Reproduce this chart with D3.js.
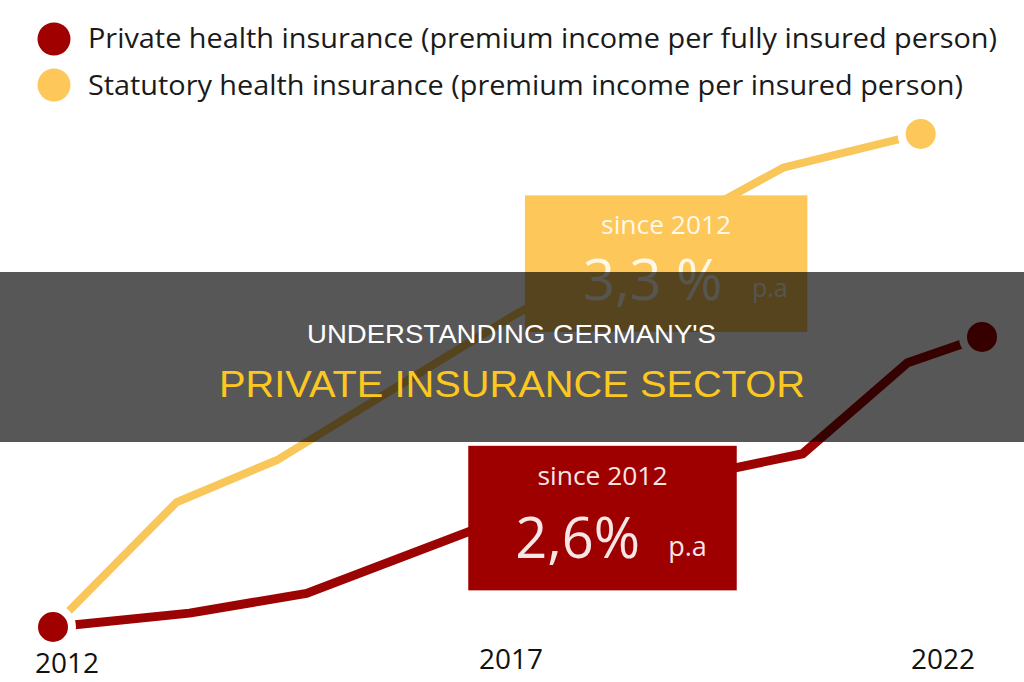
<!DOCTYPE html>
<html>
<head>
<meta charset="utf-8">
<script src="https://cdn.jsdelivr.net/npm/d3@7"></script>
<style>
  html, body { margin: 0; padding: 0; background: #fff; }
  svg { display: block; }
</style>
</head>
<body>
<svg id="chart" width="1024" height="682"></svg>
<script>
// ---------------- DATA ----------------
const seriesNames = [
  "Private health insurance (premium income per fully insured person)",
  "Statutory health insurance (premium income per insured person)"
];
// index, 2012 = 100 (x positions in years)
const privateYears = [2012, 2013.47, 2014.73, 2017, 2020.07, 2021.2, 2022];
const privateValues = [100, 101.4, 103.4, 111.5, 117.5, 126.7, 129.3];
const statutoryYears = [2012, 2013.33, 2014.42, 2017, 2019.86, 2021.34];
const statutoryValues = [100, 112.6, 116.9, 131.7, 146.4, 149.8];

const tickLabels = [2012, 2017, 2022];

const growthLabels = ["since 2012", "since 2012"];
const growthRates = ["2,6%", "3,3 %"];
const growthUnit = "p.a";

const bannerLines = ["UNDERSTANDING GERMANY'S", "PRIVATE INSURANCE SECTOR"];

// ---------------- SETUP ----------------
const colors = { priv: "#a00000", privLine: "#9c0303", stat: "#fdc759", statLine: "#f9c659" };
const svg = d3.select("#chart");

const x = d3.scaleLinear().domain([2012, 2022]).range([53, 982]);
const y = d3.scaleLinear().domain([100, 150]).range([627, 132]);
const xLab = d3.scaleLinear().domain([2012, 2017, 2022]).range([67, 511, 943]);

const priv = privateYears.map((t, i) => ({ t, v: privateValues[i] }));
const stat = statutoryYears.map((t, i) => ({ t, v: statutoryValues[i] }));

const line = d3.line().x(d => x(d.t)).y(d => y(d.v));

// lines
svg.append("path").datum(stat).attr("d", line)
  .attr("fill", "none").attr("stroke", colors.statLine)
  .attr("stroke-width", 8).attr("stroke-linejoin", "round").attr("stroke-linecap", "round");
svg.append("path").datum(priv).attr("d", line)
  .attr("fill", "none").attr("stroke", colors.privLine)
  .attr("stroke-width", 9).attr("stroke-linejoin", "round").attr("stroke-linecap", "round");

// end dots (with white halo that separates them from the lines)
const dots = [
  { d: stat[stat.length - 1], c: colors.stat },
  { d: priv[0], c: colors.priv },
  { d: priv[priv.length - 1], c: colors.priv }
];
svg.selectAll("circle.dot").data(dots).enter().append("circle")
  .attr("class", "dot")
  .attr("cx", o => x(o.d.t)).attr("cy", o => y(o.d.v))
  .attr("r", 19).attr("fill", o => o.c)
  .attr("stroke", "#fff").attr("stroke-width", 8);

// annotation boxes (extent in data units)
const boxes = [
  { t0: 2016.47, t1: 2019.36, v0: 103.7, v1: 118.3, fill: "#9e0000", txt: "#f7e6e6",
    label: growthLabels[0], rate: growthRates[0], rateDx: 47, rateDy: 112, unitDx: 200, unitDy: 110, unitSize: 27 },
  { t0: 2017.08, t1: 2020.12, v0: 129.8, v1: 143.6, fill: "#fdc75a", txt: "#fff8e8",
    label: growthLabels[1], rate: growthRates[1], rateDx: 58, rateDy: 105, unitDx: 227, unitDy: 102, unitSize: 25 }
];
boxes.forEach(b => {
  const bx = x(b.t0), by = y(b.v1), bw = x(b.t1) - x(b.t0), bh = y(b.v0) - y(b.v1);
  const g = svg.append("g");
  g.append("rect").attr("x", bx).attr("y", by).attr("width", bw).attr("height", bh).attr("fill", b.fill);
  g.append("text").attr("x", bx + bw / 2).attr("y", by + 39)
    .attr("text-anchor", "middle").attr("font-family", "'Open Sans', sans-serif")
    .attr("font-size", 25).attr("fill", b.txt)
    .attr("textLength", 130).attr("lengthAdjust", "spacingAndGlyphs")
    .text(b.label);
  g.append("text").attr("x", bx + b.rateDx).attr("y", by + b.rateDy)
    .attr("font-family", "'Open Sans', sans-serif")
    .attr("font-size", 56).attr("fill", b.txt).text(b.rate);
  g.append("text").attr("x", bx + b.unitDx).attr("y", by + b.unitDy)
    .attr("font-family", "'Open Sans', sans-serif")
    .attr("font-size", b.unitSize).attr("fill", b.txt).text(growthUnit);
});

// legend
const legend = [
  { name: seriesNames[0], c: colors.priv, cy: 39, base: 48, len: 909 },
  { name: seriesNames[1], c: colors.stat, cy: 85, base: 95, len: 875 }
];
legend.forEach(l => {
  svg.append("circle").attr("cx", 54).attr("cy", l.cy).attr("r", 16.5).attr("fill", l.c);
  svg.append("text").attr("x", 88).attr("y", l.base)
    .attr("font-family", "'Open Sans', sans-serif").attr("font-size", 28)
    .attr("fill", "#1a1a1a")
    .attr("textLength", l.len).attr("lengthAdjust", "spacingAndGlyphs")
    .text(l.name);
});

// x labels
svg.selectAll("text.tick").data(tickLabels).enter().append("text")
  .attr("class", "tick")
  .attr("x", d => xLab(d)).attr("y", (d, i) => i === 0 ? 673 : 669)
  .attr("text-anchor", "middle")
  .attr("font-family", "'Open Sans', sans-serif").attr("font-size", 27)
  .attr("fill", "#111")
  .attr("textLength", 64).attr("lengthAdjust", "spacingAndGlyphs")
  .text(d => d);

// banner overlay
svg.append("rect").attr("x", 0).attr("y", 272).attr("width", 1024).attr("height", 170)
  .attr("fill", "#000").attr("fill-opacity", 0.66);
svg.append("text").attr("x", 511.5).attr("y", 343)
  .attr("text-anchor", "middle")
  .attr("font-family", "'Liberation Sans Narrow', 'Liberation Sans', Arial, sans-serif")
  .attr("font-size", 26).attr("fill", "#ffffff")
  .attr("textLength", 409).attr("lengthAdjust", "spacingAndGlyphs")
  .text(bannerLines[0]);
svg.append("text").attr("x", 512).attr("y", 397)
  .attr("text-anchor", "middle")
  .attr("font-family", "'Liberation Sans Narrow', 'Liberation Sans', Arial, sans-serif")
  .attr("font-size", 36).attr("fill", "#fcc820")
  .attr("textLength", 586).attr("lengthAdjust", "spacingAndGlyphs")
  .text(bannerLines[1]);
</script>
</body>
</html>
